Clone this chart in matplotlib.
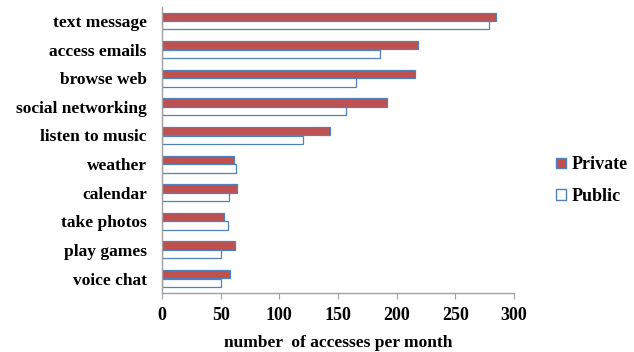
import matplotlib
matplotlib.use("Agg")
import matplotlib.pyplot as plt
import numpy as np
from matplotlib.patches import Patch

categories = ["text message", "access emails", "browse web", "social networking",
              "listen to music", "weather", "calendar", "take photos",
              "play games", "voice chat"]
private = [285, 218, 216, 192, 143, 61, 64, 53, 62, 58]
public = [279, 186, 165, 157, 120, 63, 57, 56, 50, 50]
x_ticks = [0, 50, 100, 150, 200, 250, 300]

RED = "#C0504D"
BLUE = "#4F81BD"
FONT = ["Liberation Serif", "DejaVu Serif"]
SIZE = 12.5

plt.rcParams["font.family"] = FONT
plt.rcParams["font.weight"] = "bold"

fig = plt.figure(figsize=(6.34, 3.52), dpi=100)
ax = fig.add_axes([0.2555, 0.168, 0.8107 - 0.2555, 0.981 - 0.168])

y = np.arange(len(categories))
h = 0.29
ax.barh(y - 0.15, private, height=h, color=RED, edgecolor=BLUE, linewidth=0.9)
ax.barh(y + 0.15, public, height=h, color="white", edgecolor=BLUE, linewidth=0.9)

ax.set_ylim(len(categories) - 0.5, -0.5)
ax.set_xlim(0, 300)
ax.set_xticks(x_ticks)
ax.set_xticklabels([str(v) for v in x_ticks], fontsize=13, fontweight="bold")
ax.set_yticks(y)
ax.set_yticklabels(categories, fontsize=SIZE, fontweight="bold")
ax.tick_params(axis="y", length=0, pad=11)
ax.tick_params(axis="x", length=4, color="#A0A0A0", pad=6)

for s in ["top", "right"]:
    ax.spines[s].set_visible(False)
for s in ["left", "bottom"]:
    ax.spines[s].set_color("#A0A0A0")
    ax.spines[s].set_linewidth(1)

ax.set_xlabel("number  of accesses per month", fontsize=SIZE, fontweight="bold", labelpad=8)

handles = [Patch(facecolor=RED, edgecolor=BLUE, label="Private"),
           Patch(facecolor="white", edgecolor=BLUE, label="Public")]
fig.legend(handles=handles, loc="center left", bbox_to_anchor=(0.852, 0.487),
           frameon=False, handlelength=0.55, handleheight=0.5,
           handletextpad=0.3, labelspacing=0.8,
           prop={"family": FONT, "weight": "bold", "size": 13})

fig.savefig("out.png", dpi=100)
